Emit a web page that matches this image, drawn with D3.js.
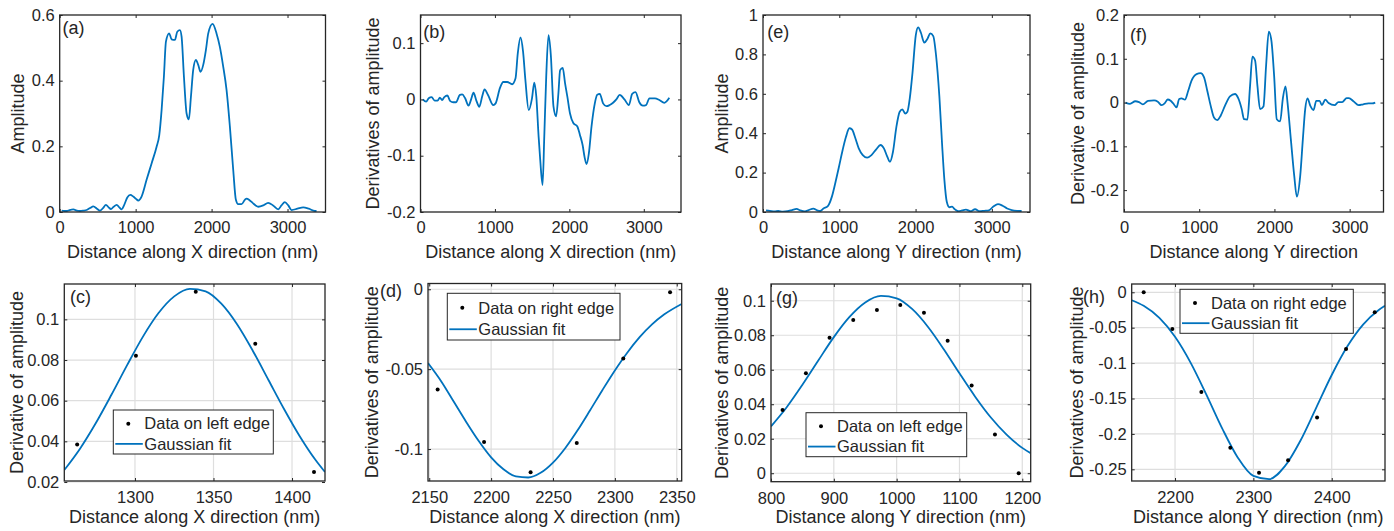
<!DOCTYPE html>
<html>
<head>
<meta charset="utf-8">
<script src="https://cdn.jsdelivr.net/npm/d3@7"></script>
<style>
  body { margin: 0; background: #fff; }
  svg { display: block; }
  text { font-family: "Liberation Sans", Arial, Helvetica, sans-serif; fill: #262626; }
</style>
</head>
<body>
<svg id="fig" width="1394" height="531"></svg>
<script>
// ---- data ----
// (a) amplitude along X
const ampX = [[26,0.004],[60,0.003],[92,0.003],[130,0.006],[180,0.008],[225,0.004],[267,0.003],[310,0.004],[355,0.006],[400,0.012],[443,0.017],[490,0.01],[530,0.004],[570,0.012],[609,0.022],[645,0.014],[675,0.009],[710,0.016],[750,0.022],[785,0.014],[816,0.008],[850,0.022],[890,0.044],[930,0.052],[969,0.047],[1005,0.04],[1035,0.035],[1078,0.047],[1144,0.098],[1210,0.148],[1276,0.199],[1311,0.234],[1342,0.311],[1372,0.412],[1399,0.519],[1442,0.544],[1473,0.526],[1517,0.524],[1548,0.549],[1583,0.554],[1605,0.534],[1636,0.412],[1671,0.30],[1701,0.282],[1728,0.351],[1758,0.433],[1793,0.463],[1824,0.448],[1855,0.427],[1890,0.448],[1925,0.493],[1956,0.544],[2013,0.573],[2065,0.544],[2109,0.503],[2153,0.443],[2197,0.372],[2241,0.26],[2285,0.128],[2320,0.037],[2350,0.024],[2394,0.024],[2438,0.037],[2461,0.041],[2500,0.036],[2540,0.028],[2580,0.02],[2614,0.016],[2680,0.02],[2745,0.028],[2810,0.02],[2877,0.008],[2920,0.02],[2965,0.03],[3010,0.02],[3053,0.006],[3130,0.01],[3206,0.014],[3280,0.01],[3359,0.003],[3382,0.003]];
// (b) derivative along X
const derivX = [[31,0],[76,-0.004],[110,0.002],[150,0.004],[190,-0.002],[230,-0.002],[260,0.003],[290,-0.001],[320,0.004],[360,0.007],[400,-0.003],[440,-0.005],[476,-0.005],[529,0.008],[560,0.009],[600,0.002],[645,-0.011],[680,0],[712,0.012],[750,-0.002],[790,-0.013],[830,0.006],[860,0.018],[907,0.008],[978,-0.01],[1009,-0.007],[1067,0.02],[1112,0.031],[1165,0.031],[1231,0.027],[1276,0.037],[1307,0.082],[1343,0.11],[1378,0.085],[1409,0.035],[1454,-0.019],[1498,0.002],[1529,0.03],[1556,0.005],[1587,-0.066],[1609,-0.108],[1640,-0.152],[1663,-0.066],[1689,0.04],[1720,0.114],[1751,0.079],[1787,-0.013],[1822,-0.03],[1853,0.011],[1876,0.052],[1911,0.056],[1942,0.029],[1973,0.005],[2009,-0.025],[2053,-0.042],[2107,-0.048],[2142,-0.063],[2178,-0.081],[2204,-0.102],[2231,-0.115],[2262,-0.096],[2298,-0.048],[2342,-0.007],[2373,0.008],[2409,0.01],[2453,-0.007],[2498,-0.012],[2542,-0.01],[2587,-0.006],[2631,0],[2676,0.008],[2740,0],[2800,-0.01],[2844,0.01],[2889,0.013],[2940,-0.005],[2987,-0.011],[3030,-0.01],[3076,0.002],[3150,0.002],[3209,-0.001],[3276,-0.006],[3343,0.003]];
// (e) amplitude along Y
const ampY = [[40,0.008],[90,0.006],[150,0.003],[200,0.005],[260,0.002],[320,0.004],[380,0.01],[440,0.016],[490,0.008],[550,0.003],[600,0.01],[660,0.017],[710,0.008],[750,0.005],[793,0.018],[850,0.03],[903,0.078],[947,0.146],[991,0.221],[1044,0.315],[1088,0.382],[1132,0.425],[1167,0.419],[1211,0.374],[1255,0.323],[1308,0.289],[1365,0.276],[1422,0.289],[1484,0.318],[1541,0.34],[1585,0.323],[1629,0.281],[1664,0.255],[1704,0.306],[1748,0.431],[1792,0.509],[1827,0.521],[1863,0.5],[1893,0.509],[1924,0.577],[1959,0.704],[2003,0.898],[2034,0.937],[2070,0.91],[2114,0.86],[2158,0.881],[2193,0.907],[2232,0.893],[2268,0.797],[2312,0.586],[2347,0.348],[2378,0.162],[2409,0.052],[2444,0.024],[2479,0.027],[2510,0.015],[2560,0.004],[2610,0.008],[2660,0.012],[2720,0.004],[2780,0.014],[2840,0.004],[2900,0.006],[2960,0.008],[3020,0.028],[3080,0.04],[3140,0.032],[3200,0.018],[3260,0.01],[3330,0.006],[3390,0.005]];
// (f) derivative along Y
const derivY = [[20,0],[80,-0.003],[150,0.003],[200,0.001],[250,-0.004],[320,0.004],[400,0.005],[450,0.002],[500,-0.006],[540,-0.002],[580,0.007],[620,0.004],[654,-0.002],[698,-0.011],[734,0.008],[765,0.0095],[809,0.0065],[854,0.027],[898,0.05],[965,0.065],[1018,0.067],[1063,0.058],[1107,0.027],[1152,-0.007],[1196,-0.034],[1240,-0.04],[1285,-0.03],[1343,-0.007],[1409,0.014],[1476,0.0195],[1520,0.0095],[1565,-0.015],[1596,-0.038],[1640,-0.039],[1676,0.038],[1707,0.105],[1743,0.096],[1774,0.038],[1809,-0.015],[1854,-0.009],[1889,0.084],[1925,0.162],[1960,0.141],[1996,0.061],[2031,-0.038],[2076,-0.043],[2111,0.008],[2147,0.037],[2174,0],[2218,-0.0835],[2263,-0.167],[2298,-0.215],[2343,-0.167],[2378,-0.0835],[2409,-0.015],[2440,0.0095],[2476,-0.007],[2520,-0.017],[2556,0.004],[2600,0.004],[2631,-0.006],[2676,0.0065],[2720,-0.001],[2800,-0.006],[2850,0.001],[2900,0.001],[2960,0.01],[2990,0.01],[3050,0.003],[3120,-0.006],[3180,-0.004],[3250,-0.002],[3300,-0.002],[3340,0]];

// (c) left edge along X: samples and Gaussian fit
const leftEdgeX = [[1263.2,0.0384],[1300.6,0.0821],[1338.7,0.1136],[1376.6,0.088],[1414,0.0249]];
const leftFitX = [[1255,0.0259],[1265,0.0364],[1275,0.0489],[1285,0.0629],[1295,0.0775],[1305,0.0914],[1315,0.1031],[1325,0.1113],[1335,0.1150],[1345,0.1138],[1355,0.1077],[1365,0.0976],[1375,0.0846],[1385,0.0702],[1395,0.0558],[1405,0.0424],[1415,0.0308],[1421,0.0249]];
// (d) right edge along X
const rightEdgeX = [[2156.8,-0.0628],[2194.3,-0.0956],[2231.9,-0.1146],[2269.2,-0.0962],[2306.8,-0.0434],[2344.6,-0.0019]];
const rightFitX = [[2149,-0.0462],[2160,-0.058],[2170,-0.0706],[2180,-0.0832],[2190,-0.095],[2200,-0.1052],[2210,-0.1127],[2220,-0.1171],[2230,-0.1178],[2240,-0.1149],[2250,-0.1085],[2260,-0.0993],[2270,-0.0881],[2280,-0.0757],[2290,-0.063],[2300,-0.0508],[2310,-0.0397],[2320,-0.03],[2330,-0.022],[2340,-0.0157],[2354,-0.0092]];
// (g) left edge along Y
const leftEdgeY = [[818.4,0.0367],[855.6,0.0579],[893.2,0.0786],[930.9,0.0888],[968.6,0.0946],[1005.8,0.0975],[1043.5,0.093],[1081.2,0.0768],[1119.4,0.0508],[1156.5,0.0224],[1194.3,0]];
const leftFitY = [[800,0.0272],[825,0.0383],[850,0.0513],[875,0.0652],[900,0.0789],[925,0.0906],[950,0.099],[975,0.1028],[1000,0.1014],[1025,0.0951],[1050,0.0848],[1075,0.0719],[1100,0.0579],[1125,0.0444],[1150,0.0323],[1175,0.0224],[1200,0.0147],[1213.4,0.0116]];
// (h) right edge along Y
const rightEdgeY = [[2160,0],[2196.6,-0.0518],[2233.6,-0.1408],[2270.6,-0.2194],[2307.2,-0.2547],[2344.3,-0.2373],[2381.3,-0.177],[2418.3,-0.0801],[2454.9,-0.0282]];
const rightFitY = [[2144.7,-0.0112],[2160,-0.0191],[2180,-0.0362],[2200,-0.0628],[2220,-0.0996],[2240,-0.1445],[2260,-0.1918],[2280,-0.2332],[2300,-0.2593],[2320,-0.2639],[2340,-0.2459],[2360,-0.2096],[2380,-0.1635],[2400,-0.1168],[2420,-0.0763],[2440,-0.0456],[2460,-0.025],[2468,-0.0191]];

const xTicksProfile = [0, 1000, 2000, 3000];
const legendLeft = ["Data on left edge", "Gaussian fit"];
const legendRight = ["Data on right edge", "Gaussian fit"];
const xTitleX = "Distance along X direction (nm)";
const xTitleY = "Distance along Y direction (nm)";

// ---- layout (pixel frames of each axes) ----
const panels = [
  {tag: "(a)", tagPos: [62.5, 34], frame: [59.7, 15, 325.5, 212], xDom: [0, 3500], yDom: [0, 0.6],
   xTicks: xTicksProfile, yTicks: [0, 0.2, 0.4, 0.6], line: ampX, xTitle: xTitleX, yTitle: "Amplitude", yTitleX: 24, row: 0},
  {tag: "(b)", tagPos: [423.3, 37.5], frame: [420.5, 15, 681, 212], xDom: [0, 3500], yDom: [-0.2, 0.15],
   xTicks: xTicksProfile, yTicks: [-0.2, -0.1, 0, 0.1], line: derivX, xTitle: xTitleX, yTitle: "Derivatives of amplitude", yTitleX: 379, row: 0},
  {tag: "(e)", tagPos: [767.3, 37.5], frame: [763, 15, 1030, 212], xDom: [0, 3500], yDom: [0, 1],
   xTicks: xTicksProfile, yTicks: [0, 0.2, 0.4, 0.6, 0.8, 1], line: ampY, xTitle: xTitleY, yTitle: "Amplitude", yTitleX: 728, row: 0},
  {tag: "(f)", tagPos: [1130, 40.5], frame: [1124, 15, 1383.5, 212], xDom: [0, 3450], yDom: [-0.25, 0.2],
   xTicks: xTicksProfile, yTicks: [-0.2, -0.1, 0, 0.1, 0.2], line: derivY, xTitle: "Distance along Y direction", yTitle: "Derivative of amplitude", yTitleX: 1084, row: 0},
  {tag: "(c)", tagPos: [70, 303], frame: [64.3, 284, 325, 481], xDom: [1255, 1421], yDom: [0.0205, 0.1174],
   xTicks: [1300, 1350, 1400], yTicks: [0.02, 0.04, 0.06, 0.08, 0.1], line: leftFitX, dots: leftEdgeX,
   xTitle: xTitleX, yTitle: "Derivative of amplitude", yTitleX: 23, row: 1,
   legend: {box: [113.3, 410, 273.3, 454], labels: legendLeft}},
  {tag: "(d)", tagPos: [380, 297], frame: [428, 283.5, 681.7, 481], xDom: [2149, 2354], yDom: [-0.12, 0.0036],
   xTicks: [2150, 2200, 2250, 2300, 2350], yTicks: [-0.1, -0.05, 0], line: rightFitX, dots: rightEdgeX,
   xTitle: xTitleX, yTitle: "Derivatives of amplitude", yTitleX: 378, row: 1,
   legend: {box: [447.3, 293.3, 620, 340], labels: legendRight}},
  {tag: "(g)", tagPos: [776, 303.5], frame: [771, 284, 1030.7, 481.7], xDom: [800, 1213.4], yDom: [-0.0049, 0.1097],
   xTicks: [800, 900, 1000, 1100, 1200], yTicks: [0, 0.02, 0.04, 0.06, 0.08, 0.1], line: leftFitY, dots: leftEdgeY,
   xTitle: xTitleY, yTitle: "Derivatives of amplitude", yTitleX: 728, row: 1,
   legend: {box: [806, 412.7, 966.7, 456.7], labels: legendLeft}},
  {tag: "(h)", tagPos: [1083, 302.5], frame: [1131.7, 284, 1385, 481], xDom: [2144.7, 2468], yDom: [-0.2665, 0.0117],
   xTicks: [2200, 2300, 2400], yTicks: [-0.25, -0.2, -0.15, -0.1, -0.05, 0], line: rightFitY, dots: rightEdgeY,
   xTitle: xTitleY, yTitle: "Derivatives of amplitude", yTitleX: 1083, row: 1,
   legend: {box: [1180, 289.3, 1353.3, 333.3], labels: legendRight}}
];

const axisColor = "#262626";
const lineColor = "#0072BD";
const tickFont = "16.5px";
const titleFont = "18px";
const fmt = d => String(Math.round(d * 10000) / 10000);

const svg = d3.select("#fig");

panels.forEach(function(p, i) {
  const [x0, y0, x1, y1] = p.frame;
  const x = d3.scaleLinear().domain(p.xDom).range([x0, x1]);
  const y = d3.scaleLinear().domain(p.yDom).range([y1, y0]);
  const g = svg.append("g");

  // grid lines only on the fit panels
  if (p.row === 1) {
    g.selectAll(".gx").data(p.xTicks).enter().append("line")
      .attr("x1", d => x(d)).attr("x2", d => x(d)).attr("y1", y0).attr("y2", y1)
      .attr("stroke", "#dedede").attr("stroke-width", 1.2);
    g.selectAll(".gy").data(p.yTicks).enter().append("line")
      .attr("x1", x0).attr("x2", x1).attr("y1", d => y(d)).attr("y2", d => y(d))
      .attr("stroke", "#dedede").attr("stroke-width", 1.2);
  }

  // clip to the frame
  const clipId = "clip" + i;
  svg.append("clipPath").attr("id", clipId).append("rect")
    .attr("x", x0).attr("y", y0).attr("width", x1 - x0).attr("height", y1 - y0);

  const line = d3.line().x(d => x(d[0])).y(d => y(d[1])).curve(d3.curveMonotoneX);
  g.append("path")
    .datum(p.line)
    .attr("clip-path", "url(#" + clipId + ")")
    .attr("fill", "none")
    .attr("stroke", lineColor)
    .attr("stroke-width", 1.8)
    .attr("stroke-linejoin", "round")
    .attr("d", line);

  if (p.dots) {
    g.selectAll(".dot").data(p.dots).enter().append("circle")
      .attr("cx", d => x(d[0])).attr("cy", d => y(d[1])).attr("r", 2)
      .attr("fill", "#000");
  }

  // axes: ticks point inwards on all four sides
  const pad = p.row === 0 ? 9.5 : 10.5;
  const bottom = g.append("g").attr("transform", "translate(0," + y1 + ")")
    .call(d3.axisBottom(x).tickValues(p.xTicks).tickFormat(fmt).tickSize(-3).tickPadding(pad));
  const top = g.append("g").attr("transform", "translate(0," + y0 + ")")
    .call(d3.axisTop(x).tickValues(p.xTicks).tickFormat("").tickSize(-3));
  const left = g.append("g").attr("transform", "translate(" + x0 + ",0)")
    .call(d3.axisLeft(y).tickValues(p.yTicks).tickFormat(fmt).tickSize(-3).tickPadding(5));
  const right = g.append("g").attr("transform", "translate(" + x1 + ",0)")
    .call(d3.axisRight(y).tickValues(p.yTicks).tickFormat("").tickSize(-3));
  [bottom, top, left, right].forEach(function(a) {
    a.select(".domain").remove();
    a.selectAll("line").attr("stroke", axisColor).attr("stroke-width", 1);
    a.selectAll("text").attr("fill", axisColor).style("font-size", tickFont)
      .style("font-family", '"Liberation Sans", Arial, sans-serif');
  });

  g.append("rect")
    .attr("x", x0).attr("y", y0).attr("width", x1 - x0).attr("height", y1 - y0)
    .attr("fill", "none").attr("stroke", axisColor).attr("stroke-width", 1.3);

  // titles
  g.append("text")
    .attr("x", (x0 + x1) / 2)
    .attr("y", p.row === 0 ? 257.5 : 522.5)
    .attr("text-anchor", "middle")
    .style("font-size", titleFont)
    .text(p.xTitle);
  g.append("text")
    .attr("transform", "translate(" + p.yTitleX + "," + (y0 + y1) / 2 + ") rotate(-90)")
    .attr("text-anchor", "middle")
    .style("font-size", titleFont)
    .text(p.yTitle);
  g.append("text")
    .attr("x", p.tagPos[0]).attr("y", p.tagPos[1])
    .style("font-size", titleFont)
    .text(p.tag);

  // legend box
  if (p.legend) {
    const [lx0, ly0, lx1, ly1] = p.legend.box;
    const lg = g.append("g");
    lg.append("rect")
      .attr("x", lx0).attr("y", ly0).attr("width", lx1 - lx0).attr("height", ly1 - ly0)
      .attr("fill", "#fff").attr("stroke", axisColor).attr("stroke-width", 1);
    const row1 = ly0 + (ly1 - ly0) * 0.31;
    const row2 = ly0 + (ly1 - ly0) * 0.77;
    lg.append("circle").attr("cx", lx0 + 15).attr("cy", row1).attr("r", 2).attr("fill", "#000");
    lg.append("line")
      .attr("x1", lx0 + 2).attr("x2", lx0 + 29.5).attr("y1", row2).attr("y2", row2)
      .attr("stroke", lineColor).attr("stroke-width", 1.8);
    lg.selectAll(".lt").data(p.legend.labels).enter().append("text")
      .attr("x", lx0 + 31)
      .attr("y", (d, k) => k === 0 ? row1 : row2)
      .attr("dy", "0.35em")
      .style("font-size", tickFont)
      .text(d => d);
  }
});
</script>
</body>
</html>
